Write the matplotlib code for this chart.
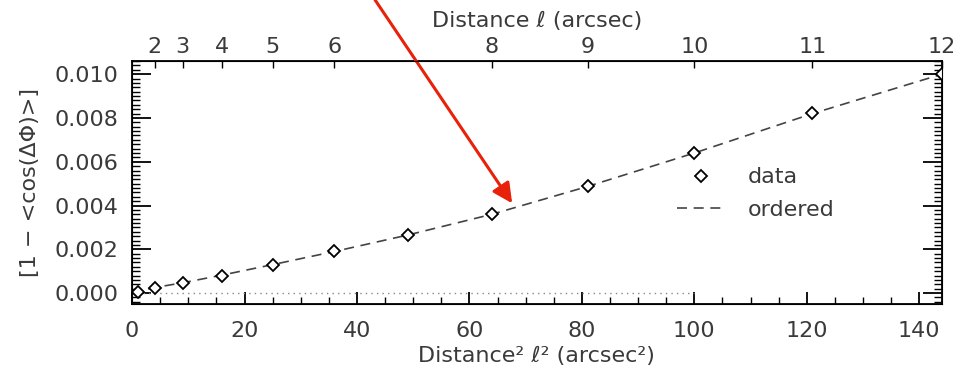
import matplotlib.pyplot as plt
import numpy as np
from matplotlib.ticker import MultipleLocator

# 距離 l (arcsec) 與量測值
ell = [1, 2, 3, 4, 5, 6, 7, 8, 9, 10, 11, 12]
data = [0.00005, 0.00023, 0.00044, 0.00080, 0.00130, 0.00190,
        0.00267, 0.00360, 0.00490, 0.00640, 0.00824, 0.01001]

# ordered 曲線
ell_ord = [0, 1, 2, 3, 4, 5, 6, 7, 8, 9, 10, 11, 12]
ordered = [0.0, 0.00008, 0.00025, 0.00047, 0.00082, 0.00130, 0.00190,
           0.00265, 0.00360, 0.00487, 0.00640, 0.00820, 0.01000]

# 上方刻度 (l)
top_ticks = [2, 3, 4, 5, 6, 8, 9, 10, 11, 12]

x_data = np.array(ell) ** 2
x_ord = np.array(ell_ord) ** 2

txt = "#3a3a3a"
plt.rcParams['font.family'] = ['DejaVu Sans']
plt.rcParams['font.size'] = 16

fig = plt.figure(figsize=(9.61, 3.77), dpi=100)
ax = fig.add_axes([0.1374, 0.1936, 0.8426, 0.6444])

ax.plot(x_data, data, linestyle='none', marker='D', markersize=6.5,
        markerfacecolor='white', markeredgecolor='black', markeredgewidth=1.3,
        label='data', zorder=3)
ax.plot(x_ord, ordered, linestyle=(0, (6, 4)), color='#444444', lw=1.2,
        label='ordered')
# 零線 (虛點)
ax.plot([0, 100], [0, 0], linestyle=(0, (1, 3)), color='#888888', lw=1)

ax.set_xlim(0, 144)
ax.set_ylim(-0.0005, 0.0106)

ax.xaxis.set_major_locator(MultipleLocator(20))
ax.xaxis.set_minor_locator(MultipleLocator(5))
ax.yaxis.set_major_locator(MultipleLocator(0.002))
ax.yaxis.set_minor_locator(MultipleLocator(0.0002))
ax.yaxis.set_major_formatter(plt.FormatStrFormatter('%.3f'))

ax.tick_params(which='both', direction='in', right=True, top=False,
               colors='black', labelcolor=txt, labelsize=16)
ax.tick_params(which='major', length=14, width=1.3)
ax.tick_params(which='minor', length=6, width=1)
ax.tick_params(axis='y', which='major', pad=10)
ax.tick_params(axis='x', which='major', length=9, pad=12)
ax.tick_params(axis='x', which='minor', length=5)
for s in ax.spines.values():
    s.set_linewidth(1.3)

ax.set_xlabel("Distance² ℓ² (arcsec²)", color=txt, fontsize=16, labelpad=4)
ax.set_ylabel("[1 − <cos(ΔΦ)>]", color=txt, fontsize=16, labelpad=10)

# 上方軸: l 的刻度
top = ax.twiny()
top.set_xlim(ax.get_xlim())
top.set_xticks(np.array(top_ticks) ** 2)
top.set_xticklabels([str(t) for t in top_ticks])
top.tick_params(direction='in', length=5, width=1, labelcolor=txt,
                labelsize=16, pad=3)
top.set_xlabel("Distance ℓ (arcsec)", color=txt, fontsize=16, labelpad=7)

ax.legend(loc='center left', bbox_to_anchor=(0.648, 0.455), frameon=False,
          fontsize=16, handlelength=2.2, handletextpad=1.0, labelspacing=0.55,
          labelcolor=txt)

# 紅色箭頭
ax.annotate("", xy=(67.6, 0.0041), xytext=(43.2, 0.0134),
            xycoords='data', textcoords='data', annotation_clip=False,
            arrowprops=dict(arrowstyle='-|>', color='#e8210a', lw=2.2,
                            mutation_scale=30, shrinkA=0, shrinkB=0))

fig.savefig("out.png", dpi=100)
